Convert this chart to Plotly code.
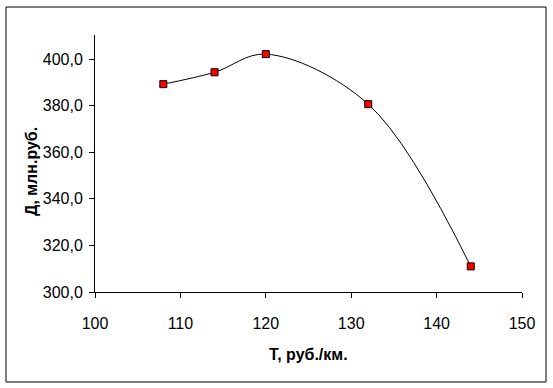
import plotly.graph_objects as go

T = [108, 114, 120, 132, 144]
D = [389.2, 394.3, 402.1, 380.6, 311.0]
x_ticks = [100, 110, 120, 130, 140, 150]
y_ticks = [300, 320, 340, 360, 380, 400]

W, H = 553, 388
L, R, TOP, BOT = 95, 31, 35, 96
pw, ph = W - L - R, H - TOP - BOT

def px(x):
    return (x - L) / pw

def py(y):
    return (H - BOT - y) / ph

font = "Liberation Sans, Arial, sans-serif"

fig = go.Figure()
fig.add_trace(go.Scatter(
    x=T, y=D, mode="lines+markers",
    line=dict(color="black", width=1, shape="spline", smoothing=1),
    marker=dict(symbol="square", size=7, color="#ff0000",
                line=dict(color="black", width=1)),
    showlegend=False, cliponaxis=False,
))

fig.update_layout(
    width=W, height=H,
    margin=dict(l=L, r=R, t=TOP, b=BOT),
    paper_bgcolor="white", plot_bgcolor="white",
    separators=", ",
    font=dict(family=font, size=16, color="black"),
    xaxis=dict(range=[100, 150], tickvals=x_ticks, showgrid=False, zeroline=False,
               showline=True, linecolor="black", linewidth=1,
               ticks="outside", ticklen=5, tickcolor="black", ticklabelstandoff=12),
    yaxis=dict(range=[300, 410.3], tickvals=y_ticks, tickformat=".1f", showgrid=False,
               zeroline=False, showline=True, linecolor="black", linewidth=1,
               ticks="outside", ticklen=5, tickcolor="black", ticklabelstandoff=3),
    shapes=[dict(type="rect", xref="paper", yref="paper",
                 x0=px(6), x1=px(546), y0=py(382), y1=py(7),
                 line=dict(color="black", width=1), fillcolor="rgba(0,0,0,0)")],
    annotations=[
        dict(text="<b>Т, руб./км.</b>", xref="paper", yref="paper",
             x=px(308), y=py(354), showarrow=False, xanchor="center", yanchor="middle",
             font=dict(size=16)),
        dict(text="<b>Д, млн.руб.</b>", xref="paper", yref="paper",
             x=px(31), y=py(172), showarrow=False, xanchor="center", yanchor="middle",
             textangle=-90, font=dict(size=16)),
    ],
)

fig.write_html("out.html", config={"displayModeBar": False},
               post_script="document.body.style.margin='0';document.body.style.overflow='hidden';")
